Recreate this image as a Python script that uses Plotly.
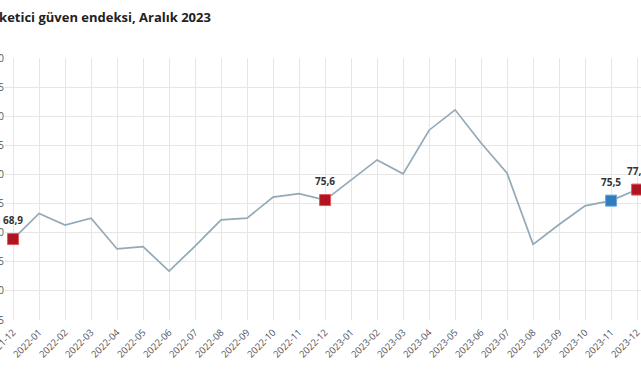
import plotly.graph_objects as go

months = ["2021-12", "2022-01", "2022-02", "2022-03", "2022-04", "2022-05", "2022-06",
          "2022-07", "2022-08", "2022-09", "2022-10", "2022-11", "2022-12",
          "2023-01", "2023-02", "2023-03", "2023-04", "2023-05", "2023-06",
          "2023-07", "2023-08", "2023-09", "2023-10", "2023-11", "2023-12"]
values = [68.9, 73.3, 71.3, 72.5, 67.2, 67.6, 63.4,
          67.7, 72.2, 72.5, 76.1, 76.7, 75.6,
          79.0, 82.5, 80.1, 87.6, 91.1, 85.4,
          80.2, 68.0, 71.4, 74.6, 75.5, 77.4]
red_months = ["2021-12", "2022-12", "2023-12"]
blue_months = ["2023-11"]
title_text = "Tüketici güven endeksi, Aralık 2023"
y_ticks = [55, 60, 65, 70, 75, 80, 85, 90, 95, 100]

idx = {m: i for i, m in enumerate(months)}
red_vals = [values[idx[m]] for m in red_months]
blue_vals = [values[idx[m]] for m in blue_months]

fig = go.Figure()
fig.add_trace(go.Scatter(x=months, y=values, mode="lines",
                         line=dict(color="#93a9b7", width=1.7),
                         hoverinfo="skip", cliponaxis=False))
fig.add_trace(go.Scatter(x=red_months, y=red_vals, mode="markers",
                         marker=dict(symbol="square", size=11, color="#b01420",
                                     line=dict(color="#e2585f", width=1)),
                         cliponaxis=False))
fig.add_trace(go.Scatter(x=blue_months, y=blue_vals, mode="markers",
                         marker=dict(symbol="square", size=11, color="#2f7cbf",
                                     line=dict(color="#6aa6d8", width=1)),
                         cliponaxis=False))

for m in red_months + blue_months:
    v = values[idx[m]]
    fig.add_annotation(x=m, y=v, xref="x", yref="y", text="<b>" + f"{v:.1f}".replace(".", ",") + "</b>",
                       showarrow=False, yshift=19,
                       font=dict(family="Open Sans", size=10, color="#333333"))

fig.add_annotation(x=(213 - 5) / 636, y=1 + (58 - 17) / 262.5, xref="paper", yref="paper",
                   xanchor="right", yanchor="middle", showarrow=False, text="<b>" + title_text + "</b>",
                   font=dict(family="Open Sans", size=13, color="#222222"))

fig.update_layout(
    width=641, height=380,
    margin=dict(l=5, r=0, t=58, b=60, autoexpand=False),
    paper_bgcolor="white", plot_bgcolor="white",
    showlegend=False,
    font=dict(family="Open Sans", color="#555555"),
)
fig.update_xaxes(type="category", range=[-0.31, 24.15], showgrid=True, gridcolor="#e6e6e6",
                 gridwidth=1, tickangle=-45, tickfont=dict(size=9.5, color="#555555"),
                 showline=False, zeroline=False, automargin=False, ticks="", ticklabelstandoff=4)
fig.update_yaxes(range=[55, 100], tickvals=y_ticks, showgrid=True, gridcolor="#e6e6e6",
                 gridwidth=1, tickfont=dict(size=10, color="#555555"),
                 showline=False, zeroline=False, automargin=False, ticks="")

fig.write_html("out.html")
